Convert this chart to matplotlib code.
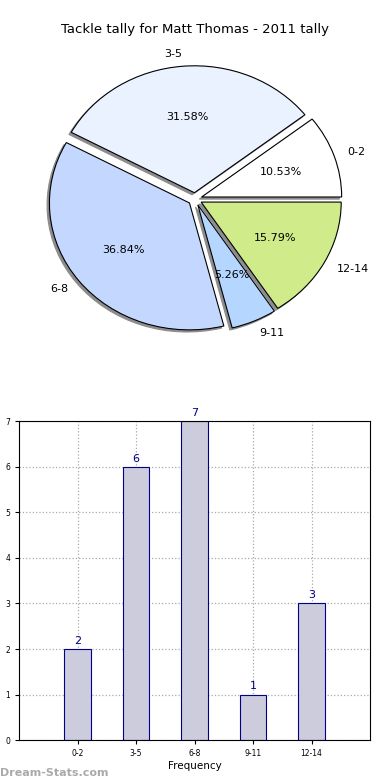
import matplotlib
matplotlib.use("Agg")
import matplotlib.pyplot as plt
import numpy as np

categories = ["0-2", "3-5", "6-8", "9-11", "12-14"]
values = [2, 6, 7, 1, 3]
pie_colors = ["#ffffff", "#eaf2ff", "#c4d8ff", "#b5d6ff", "#cfeb8a"]
title = "Tackle tally for Matt Thomas - 2011 tally"

fig = plt.figure(figsize=(3.9, 7.8), dpi=100)

# Pie (elliptical, as in the reference)
ax1 = fig.add_axes([0.105, 0.5658, 0.79, 0.358])
wedges, texts, autotexts = ax1.pie(
    values, labels=categories, colors=pie_colors, explode=[0.05] * 5,
    autopct="%1.2f%%",
    shadow={"ox": -0.012, "oy": -0.012, "facecolor": "#8c8c8c",
            "edgecolor": "#8c8c8c", "alpha": 1.0},
    startangle=0, counterclock=True,
    labeldistance=1.1, pctdistance=0.6,
    wedgeprops=dict(edgecolor="black", linewidth=0.8),
    textprops=dict(fontsize=8))
ax1.set_aspect("auto")
ax1.set_xlim(-1.1, 1.1)
ax1.set_ylim(-1.1, 1.1)
ax1.axis("off")
fig.text(0.5, 1 - 30 / 780, title, fontsize=9.5, ha="center", va="center")

# Bar
ax2 = fig.add_axes([0.049, 0.051, 0.9, 0.409])
x = np.arange(len(categories))
ax2.bar(x, values, width=0.45, color="#ccccdd", edgecolor="#000088", linewidth=0.8, zorder=2)
for xi, v in zip(x, values):
    ax2.text(xi, v + 0.07, str(v), ha="center", va="bottom", color="#000088", fontsize=8)
ax2.set_xlim(-1, 5)
ax2.set_ylim(0, 7)
ax2.set_xticks(x)
ax2.set_xticklabels(categories, fontsize=5.5)
ax2.set_yticks(range(8))
ax2.tick_params(axis="y", labelsize=5.5, length=3)
ax2.tick_params(axis="x", length=3)
ax2.grid(True, linestyle=":", color="#aaaaaa", linewidth=0.9, zorder=0)
ax2.set_axisbelow(True)
ax2.set_xlabel("Frequency", fontsize=7.5, labelpad=2)
ax2.set_ylabel("Stat Intervals", fontsize=7.5, labelpad=2)

fig.text(0.0, 0.003, "Dream-Stats.com", fontsize=8, color="#aaaaaa", fontweight="bold", ha="left", va="bottom")

fig.savefig("out.png", dpi=100)
